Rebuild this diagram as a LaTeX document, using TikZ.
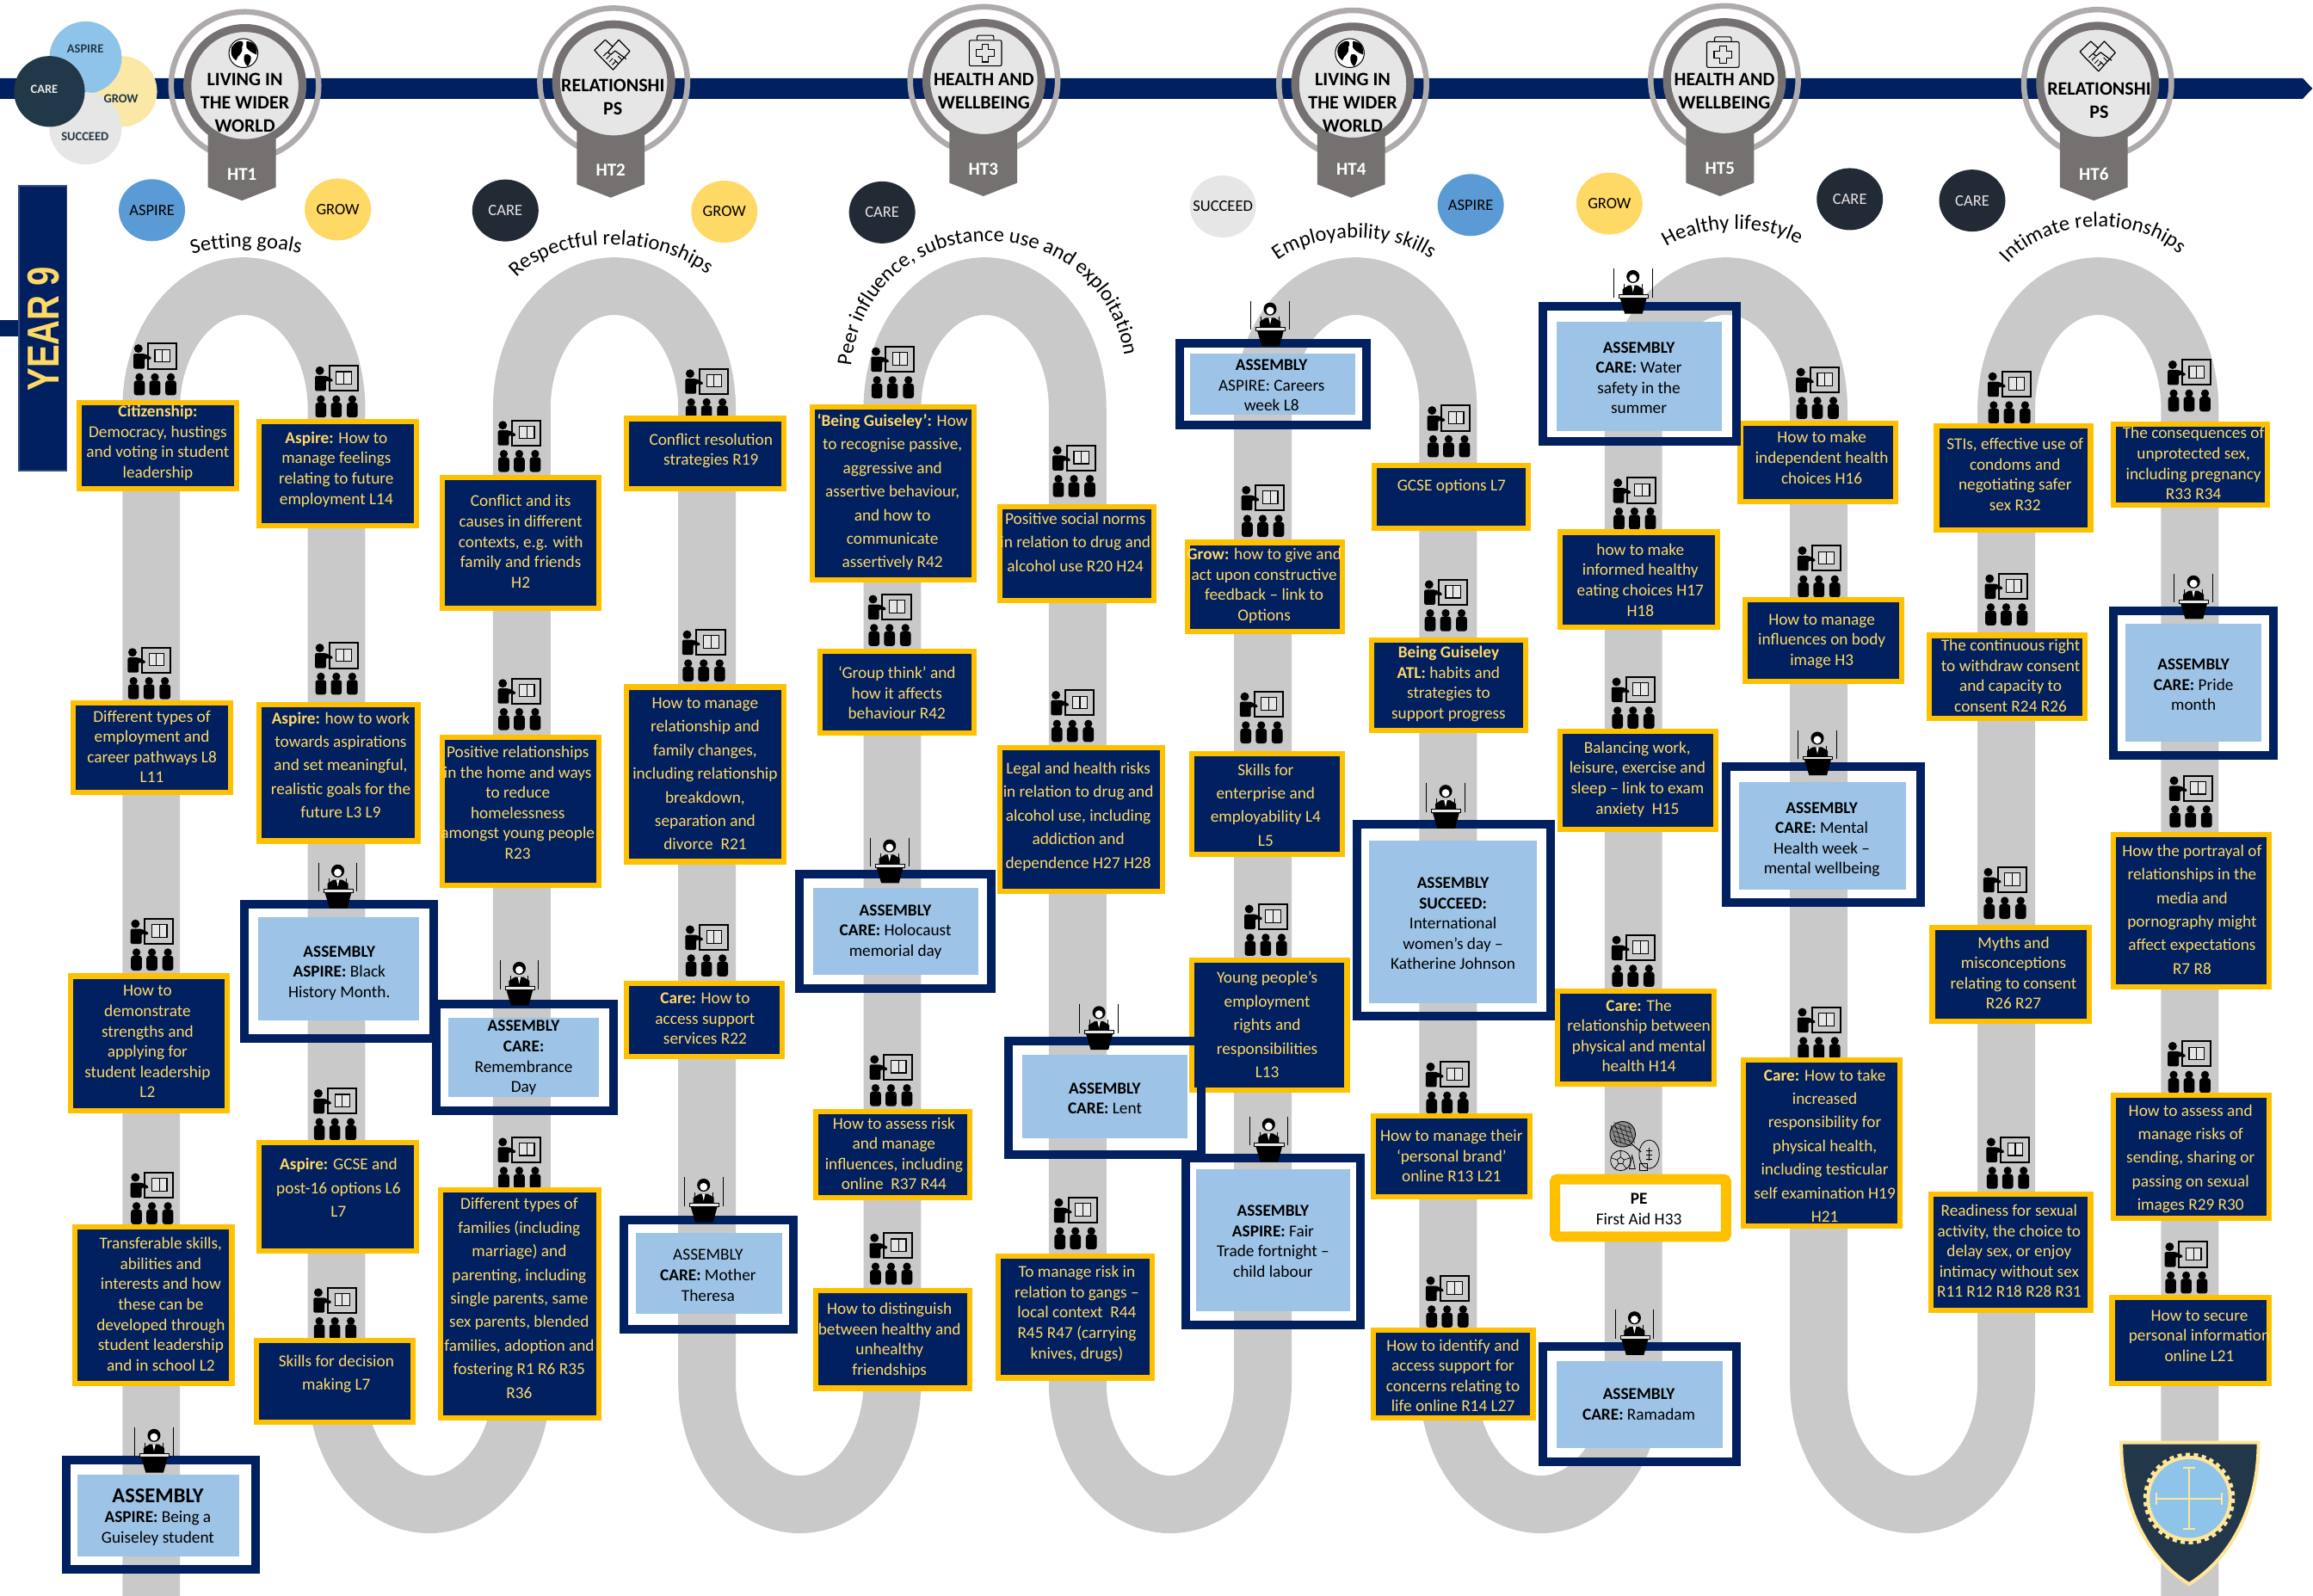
\documentclass[tikz,border=0pt]{standalone}
\usepackage{fontspec}
\usepackage{graphicx}
\setmainfont{Carlito}
\setsansfont{Liberation Sans}
\usetikzlibrary{shapes.geometric,decorations.text}
\definecolor{navyband}{HTML}{002060}
\definecolor{lessonyellow}{HTML}{FFD966}
\definecolor{boxyellow}{HTML}{FFC000}
\definecolor{assemblyblue}{HTML}{9DC3E6}
\definecolor{roadgrey}{HTML}{C9C9C9}
\definecolor{ringdark}{HTML}{767171}
\definecolor{ringlight}{HTML}{AFABAB}
\definecolor{paleface}{HTML}{E7E6E6}
\definecolor{aspireblue}{HTML}{5B9BD5}
\definecolor{carenavy}{HTML}{222A35}
\definecolor{vennblue}{HTML}{8FC4EA}
\definecolor{venncare}{HTML}{203847}
\definecolor{venngrow}{HTML}{FBE8A6}
\definecolor{shieldnavy}{HTML}{22384A}
\definecolor{shieldedge}{HTML}{FFE699}
\tikzset{
  road/.style={draw=roadgrey,line width=66.9pt},
  lessonbox/.style={draw=boxyellow,fill=navyband,line width=6.2pt},
  lessontext/.style={align=center,text=lessonyellow,inner sep=0pt,yshift=-1.2pt},
  tightlines/.style={font=\fontsize{19.3}{23.6}\selectfont},
  looselines/.style={font=\fontsize{19.3}{27.4}\selectfont},
  assemblytext/.style={align=center,text=black,inner sep=0pt,yshift=-1.2pt,font=\fontsize{19.3}{23.6}\selectfont},
  medaltext/.style={align=center,text=black,inner sep=0pt,font=\bfseries\fontsize{22}{27}\selectfont},
  badge/.style={ellipse,minimum width=77pt,minimum height=72pt,inner xsep=-14pt,inner ysep=0pt,font=\fontsize{18.5}{20}\selectfont},
  vennlabel/.style={inner sep=0pt,text=venncare,font=\bfseries\fontsize{14.5}{16}\selectfont},
  curvetext/.style={decorate,decoration={text along path,text align=center,text={|\fontsize{24.5}{27}\selectfont|#1}}},
  teacherpic/.pic={
    \fill[black] (-11.2,-14.7) circle (2.9);
    \fill[black,rounded corners=1.5pt] (-14.5,-11.2) -- (-7,-11.2) -- (-2,-8.5) -- (-3,-7) -- (-7,-8) -- (-7,-1) -- (-14.5,-1) -- cycle;
    \draw[line width=2pt] (-4.8,-18) rectangle (14.5,-1);
    \draw[line width=1.2pt,fill=paleface] (0,-14) rectangle (10.2,-5.6);
    \draw[line width=1.2pt] (5.1,-14) -- (5.1,-5.6);
    \foreach \sx in {-10.5,0,10.8}{
      \fill[black] (\sx,4.7) circle (2.7);
      \fill[black,rounded corners=3pt] (\sx-3.7,17) -- (\sx-3.7,7) -- (\sx+3.7,7) -- (\sx+3.7,17) -- cycle;
    }
  },
  speakerpic/.pic={
    \draw[line width=1pt] (-13,0) -- (-13,19.6) (13,0) -- (13,19.6);
    \fill[black] (0,5.5) circle (4.4);
    \fill[black] (-7,17.7) -- (-7,14) -- (-3,11.5) -- (3,11.5) -- (7,14) -- (7,17.7) -- cycle;
    \fill[white] (0,6.6) circle (2.6);
    \fill[white] (-1,11.5) -- (1,11.5) -- (0,16) -- cycle;
    \draw[line width=1pt] (-6,10.5) -- (-6,15) (6,10.5) -- (6,15);
    \fill[black] (-8.8,20) -- (9.3,20) -- (6.4,30.7) -- (-5.6,30.7) -- cycle;
    \draw[fill=paleface,line width=.8pt] (-9.6,17.7) rectangle (10.3,20);
  },
  globepic/.pic={
    \draw[fill=white,line width=1pt] (0,0) circle (9.8);
    \fill[black] (-8,-4) .. controls (-4,-10) and (2,-9) .. (-1,-4) .. controls (0,1) and (-4,1) .. (-5,5) .. controls (-8,3) and (-9,0) .. cycle;
    \fill[black] (2,-8) .. controls (8,-8) and (10,-3) .. (9,1) .. controls (6,0) and (3,-2) .. (2,-4) -- cycle;
    \fill[black] (1,1) .. controls (5,0) and (7,3) .. (3,9) .. controls (0,7) and (0,3) .. cycle;
  },
  handpic/.pic={
    \draw[line width=1.2pt,line join=round] (-12,-3) -- (-4.7,-10) -- (0.3,-5.4) -- (4.5,-10) -- (12,-2.3) -- (9.5,0.5) -- (0.6,10.3) -- (-9,0.5) -- cycle;
    \draw[line width=1.2pt,line join=round] (0.3,-5.4) -- (-3,-1.5) -- (-1,0) -- (2,-2.5) -- (9.5,3);
    \foreach \fa in {-6,-4,-2,0}{
      \draw[line width=1pt] (\fa,\fa+7) -- (\fa+2.5,\fa+4.5);
    }
    \draw[line width=1pt] (4,6) -- (1.5,3.5) (6.5,3.5) -- (4,1);
  },
  kitpic/.pic={
    \draw[line width=1.1pt,rounded corners=2pt,fill=paleface] (-11,-8.7) rectangle (11,8.7);
    \draw[line width=1.1pt,rounded corners=2pt] (-5.7,-8.7) -- (-5.7,-12) -- (5.7,-12) -- (5.7,-8.7);
    \draw[line width=1.1pt] (-2.2,-6) -- (2.2,-6) -- (2.2,-2.2) -- (6,-2.2) -- (6,2.2) -- (2.2,2.2) -- (2.2,6) -- (-2.2,6) -- (-2.2,2.2) -- (-6,2.2) -- (-6,-2.2) -- (-2.2,-2.2) -- cycle;
  },
  sportpic/.pic={
    \draw[line width=.9pt,fill=black!45] (0,0) circle (8.6);
    \foreach \hx in {-6,-3,0,3,6}{
      \draw[line width=.5pt] (\hx-2,-6) -- (\hx+2,6) (-6,\hx-2) -- (6,\hx+2);
    }
    \draw[line width=1pt] (6,6.5) -- (12.5,12);
    \draw[line width=.8pt] (-1.4,17.9) circle (6.8);
    \draw[line width=.7pt] (-1.4,15.4) -- (-3.7,17.4) -- (-2.8,20) -- (0,20) -- (.9,17.4) -- cycle
      (-1.4,15.4) -- (-1.4,11.1) (-3.7,17.4) -- (-7.8,16) (.9,17.4) -- (5,16) (-2.8,20) -- (-5.5,23.4) (0,20) -- (2.7,23.4);
    \draw[line width=.8pt] (18,13.6) ellipse [x radius=6.8,y radius=9.7];
    \draw[line width=.8pt] (18,9) -- (18,18) (16,11) -- (20,11) (16,14) -- (20,14) (16,17) -- (20,17);
    \draw[line width=.8pt] (4.5,23.5) -- (6.4,14.5) -- (8.5,23.5) -- cycle;
    \draw[line width=.8pt] (11.5,20) rectangle (17,24.5);
  }
}
\newcommand{\lesson}[8][tightlines]{%
  \draw[lessonbox] ({#3+1.8},{#4+1.8}) rectangle ({#5-1.8},{#6-1.8});
  \lessonwords{#1}{#2}{#7}{#8}}
\newcommand{\lessonwords}[5]{\node[lessontext,#1] (#2) at (#3,#4) {#5};}
\begin{document}
\begin{tikzpicture}[x=1.7143pt,y=-1.7143pt]
  \useasboundingbox (0,0) rectangle (1568,1082);
  % winding road
  \draw[road] (102.5,1082) -- (102.5,277) arc[start angle=180,end angle=360,x radius=62.8,y radius=83]
    -- (228.1,937) arc[start angle=180,end angle=0,x radius=62.8,y radius=83]
    -- (353.7,277) arc[start angle=180,end angle=360,x radius=62.8,y radius=83]
    -- (479.3,937) arc[start angle=180,end angle=0,x radius=62.8,y radius=83]
    -- (604.9,277) arc[start angle=180,end angle=360,x radius=62.8,y radius=83]
    -- (730.5,937) arc[start angle=180,end angle=0,x radius=62.8,y radius=83]
    -- (856.1,277) arc[start angle=180,end angle=360,x radius=62.8,y radius=83]
    -- (981.7,937) arc[start angle=180,end angle=0,x radius=62.8,y radius=83]
    -- (1107.3,277) arc[start angle=180,end angle=360,x radius=62.8,y radius=83]
    -- (1232.9,937) arc[start angle=180,end angle=0,x radius=63.6,y radius=83]
    -- (1360.1,277) arc[start angle=180,end angle=360,x radius=62.2,y radius=83]
    -- (1484.5,1082);
  % top band and year tab
  \fill[navyband] (0,53) -- (1561,53) -- (1567.6,60) -- (1561,67) -- (0,67) -- cycle;
  \fill[navyband] (0,216.8) rectangle (14,228.3);
  \draw[fill=navyband,draw=navyband!80!white,line width=1.5pt] (12.8,126) rectangle (45.2,319);
  \node[inner sep=0pt,rotate=90,text=lessonyellow] (year) at (29.3,223) {\scalebox{.77}[1]{\sffamily\bfseries\fontsize{52}{54}\selectfont YEAR 9}};
  % venn
  \fill[venngrow] (82.5,62) circle (24);
  \fill[vennblue] (58,39) circle (24.5);
  \fill[paleface] (58,87) circle (24.5);
  \fill[venncare] (33.5,62) circle (24);
  \node[vennlabel] (vaspire) at (57.8,33.4) {ASPIRE};
  \node[vennlabel,text=paleface] (vcare) at (30,60.4) {CARE};
  \node[vennlabel] (vgrow) at (82,67) {GROW};
  \node[vennlabel] (vsucceed) at (57.6,92.7) {SUCCEED};
  % half term medals
  \foreach \cx/\cy/\px/\tip in {166/58/164/136,416/55.5/414/134,667/54.6/666.6/133,917/57/916/134,1169/54/1166/133,1422/56.5/1419.4/136}{
    \draw[ringlight,line width=6.5pt] (\cx,\cy) circle (50);
    \fill[ringdark] (\px-23,\cy+30) -- (\px+23,\cy+30) -- (\px+23,\tip-9) -- (\px,\tip) -- (\px-23,\tip-9) -- cycle;
    \draw[ringdark,fill=paleface,line width=9.2pt] (\cx,\cy) circle (39);
  }
  \pic at (165,36) {globepic};
  \pic at (415,37) {handpic};
  \pic at (668,36) {kitpic};
  \pic at (915,36) {globepic};
  \pic at (1168,37) {kitpic};
  \pic at (1422,38) {handpic};
  \node[medaltext] (theme1) at (166,69.5) {LIVING IN\\THE WIDER\\WORLD};
  \node[medaltext] (theme2) at (415.5,66) {RELATIONSHI\\PS};
  \node[medaltext] (theme3) at (667,62) {HEALTH AND\\WELLBEING};
  \node[medaltext] (theme4) at (917,69.5) {LIVING IN\\THE WIDER\\WORLD};
  \node[medaltext] (theme5) at (1169,62) {HEALTH AND\\WELLBEING};
  \node[medaltext] (theme6) at (1423,68) {RELATIONSHI\\PS};
  \foreach \hx/\hy/\hn in {164/118/1,414/115/2,666.6/115/3,916/115/4,1166/114/5,1419.4/118/6}{
    \node[inner sep=0pt,text=white,font=\bfseries\fontsize{21}{23}\selectfont] (ht\hn) at (\hx,\hy) {HT\hn};
  }
  % strand badges
  \node[badge,fill=aspireblue] (aspire1) at (103,142.5) {ASPIRE};
  \node[badge,fill=lessonyellow] (grow1) at (229,142) {GROW};
  \node[badge,fill=carenavy,text=paleface] (care2) at (342.6,142.7) {CARE};
  \node[badge,fill=lessonyellow] (grow2) at (491,143.5) {GROW};
  \node[badge,fill=carenavy,text=paleface] (care3) at (598,144) {CARE};
  \node[badge,fill=paleface] (succeed4) at (829,140) {SUCCEED};
  \node[badge,fill=aspireblue] (aspire4) at (997,139) {ASPIRE};
  \node[badge,fill=lessonyellow] (grow5) at (1091,138) {GROW};
  \node[badge,fill=carenavy,text=paleface] (care5) at (1254,135) {CARE};
  \node[badge,fill=carenavy,text=paleface] (care6) at (1337,136) {CARE};
  % unit titles
  \path[curvetext={Setting goals}] (129,173) .. controls (150,166) and (183,166) .. (205,172);
  \path[curvetext={Respectful relationships}] (348,191) .. controls (375,158) and (445,158) .. (482,188);
  \path[curvetext={Peer influence, substance use and exploitation}] (577,247) .. controls (590,137) and (745,137) .. (762,240);
  \path[curvetext={Employability skills}] (861,181) .. controls (885,155) and (950,155) .. (975,180);
  \path[curvetext={Healthy lifestyle}] (1126,170) .. controls (1150,151) and (1200,151) .. (1223,168);
  \path[curvetext={Intimate relationships}] (1357,184) .. controls (1385,145) and (1455,145) .. (1482,177);
  % lesson icons
  \foreach \ix/\iy in {105/251,101/457,103/641,103/813,228/266,228/454,227/756,227/891,352/303,352/478,352/789,
    479/268,477/445,479/645,605/253,603/421,604/733,604/854,728/320,727/486,729/830,856/347,855/487,858/631,
    982/293,980/411,981/738,981/883,1108/342,1107/477,1107/652,1232/267,1233/388,1233/701,
    1362/270,1360/407,1359/606,1361/789,1484/262,1485/544,1484/724,1482/860}{
    \pic at (\ix,\iy) {teacherpic};
  }
  \pic at (1100,769) {sportpic};
  % lessons
  \lesson{citizen}{52}{271}{162}{333}{107}{299.5}{\textbf{Citizenship:}\\Democracy, hustings\\and voting in student\\leadership}
  \lesson{feelings}{174}{284}{284}{358}{228}{317.5}{\textbf{Aspire:} How to\\manage feelings\\relating to future\\employment L14}
  \lesson{pathways}{48}{475}{158}{539}{103}{505.5}{Different types of\\employment and\\career pathways L8\\L11}
  \lesson[looselines]{goals}{174}{476}{285}{572}{231}{518}{\textbf{Aspire:} how to work\\towards aspirations\\and set meaningful,\\realistic goals for the\\future L3 L9}
  \lesson{strengths}{46}{660}{156}{755}{100}{705.5}{How to\\demonstrate\\strengths and\\applying for\\student leadership\\L2}
  \lesson{transferable}{49}{830}{159}{940}{109}{883.5}{Transferable skills,\\abilities and\\interests and how\\these can be\\developed through\\student leadership\\and in school L2}
  \lesson[looselines]{gcse}{174}{773}{284}{850}{229.5}{804.5}{\textbf{Aspire:} GCSE and\\post-16 options L6\\L7}
  \lesson[looselines]{decision}{172}{907}{282}{966}{228}{931}{Skills for decision\\making L7}
  \lesson{causes}{298}{322}{408}{414}{353}{366.5}{Conflict and its\\causes in different\\contexts, e.g. with\\family and friends\\H2}
  \lesson{homeless}{298}{498}{408}{602}{351}{543.5}{Positive relationships\\in the home and ways\\to reduce\\homelessness\\amongst young people\\R23}
  \lesson[looselines]{familytypes}{297}{805}{408}{963}{352}{879.5}{Different types of\\families (including\\marriage) and\\parenting, including\\single parents, same\\sex parents, blended\\families, adoption and\\fostering R1 R6 R35\\R36}
  \lesson{resolution}{423}{282}{533}{333}{482}{305}{Conflict resolution\\strategies R19}
  \lesson[looselines]{breakdown}{423}{464}{533}{586}{478}{524}{How to manage\\relationship and\\family changes,\\including relationship\\breakdown,\\separation and\\divorce\ \ R21}
  \lesson{services}{423}{665}{532}{718}{478}{690}{\textbf{Care:} How to\\access support\\services R22}
  \lesson[looselines]{assertive}{549}{274}{662}{395}{605}{333}{\textbf{‘Being Guiseley’:} How\\to recognise passive,\\aggressive and\\assertive behaviour,\\and how to\\communicate\\assertively R42}
  \lesson{groupthink}{554}{440}{662}{499}{608}{469}{‘Group think’ and\\how it affects\\behaviour R42}
  \lesson{risk}{551}{752}{659}{814}{606}{781.5}{How to assess risk\\and manage\\influences, including\\online\ \ R37 R44}
  \lesson{unhealthy}{551}{873}{659}{943}{603}{908}{How to distinguish\\between healthy and\\unhealthy\\friendships}
  \lesson[looselines]{norms}{676}{342}{784}{409}{729}{367}{Positive social norms\\in relation to drug and\\alcohol use R20 H24}
  \lesson[looselines]{legal}{676}{505}{790}{606}{731}{553}{Legal and health risks\\in relation to drug and\\alcohol use, including\\addiction and\\dependence H27 H28}
  \lesson{gangs}{675}{850}{783}{936}{730}{890}{To manage risk in\\relation to gangs --\\local context\ \ R44\\R45 R47 (carrying\\knives, drugs)}
  \lesson{feedback}{803}{366}{912}{430}{857}{396.5}{\textbf{Grow:} how to give and\\act upon constructive\\feedback -- link to\\Options}
  \lesson[looselines]{enterprise}{806}{509}{912}{581}{858}{545}{Skills for\\enterprise and\\employability L4\\L5}
  \lesson[looselines]{rights}{806}{649}{915}{741}{859}{694}{Young people’s\\employment\\rights and\\responsibilities\\L13}
  \lesson{options}{930}{314}{1038}{360}{984}{329}{GCSE options L7}
  \lesson{atl}{928}{432}{1036}{497}{982}{463}{\textbf{Being Guiseley}\\\textbf{ATL:} habits and\\strategies to\\support progress}
  \lesson{brand}{929}{755}{1039}{813}{984}{783}{How to manage their\\‘personal brand’\\online R13 L21}
  \lesson{concerns}{929}{900}{1041}{963}{985}{932}{How to identify and\\access support for\\concerns relating to\\life online R14 L27}
  \lesson{eating}{1056}{359}{1166}{427}{1112}{392.5}{how to make\\informed healthy\\eating choices H17\\H18}
  \lesson{balancing}{1056}{494}{1165}{564}{1110}{527.5}{Balancing work,\\leisure, exercise and\\sleep -- link to exam\\anxiety\ \ H15}
  \lesson{mindbody}{1054}{670}{1164}{737}{1111}{701.5}{\textbf{Care:} The\\relationship between\\physical and mental\\health H14}
  \lesson{choices}{1178}{285}{1287}{342}{1235}{309.5}{How to make\\independent health\\choices H16}
  \lesson{bodyimage}{1181}{405}{1291}{464}{1235}{434}{How to manage\\influences on body\\image H3}
  \lesson[looselines]{selfexam}{1180}{717}{1290}{833}{1237}{776}{\textbf{Care:} How to take\\increased\\responsibility for\\physical health,\\including testicular\\self examination H19\\H21}
  \lesson{stis}{1311}{287}{1419}{361}{1366}{321}{STIs, effective use of\\condoms and\\negotiating safer\\sex R32}
  \lesson{withdraw}{1306}{429}{1415}{489}{1363}{457.5}{The continuous right\\to withdraw consent\\and capacity to\\consent R24 R26}
  \lesson{myths}{1308}{627}{1418}{694}{1365}{659}{Myths and\\misconceptions\\relating to consent\\R26 R27}
  \lesson{readiness}{1307}{808}{1419}{890}{1362}{847.5}{Readiness for sexual\\activity, the choice to\\delay sex, or enjoy\\intimacy without sex\\R11 R12 R18 R28 R31}
  \lesson{unprotected}{1431}{286}{1539}{344}{1487}{313.5}{The consequences of\\unprotected sex,\\including pregnancy\\R33 R34}
  \lesson[looselines]{portrayal}{1431}{564}{1540}{671}{1486}{616}{How the portrayal of\\relationships in the\\media and\\pornography might\\affect expectations\\R7 R8}
  \lesson[looselines]{sharing}{1431}{741}{1540}{828}{1485}{785}{How to assess and\\manage risks of\\sending, sharing or\\passing on sexual\\images R29 R30}
  \lesson{secure}{1430}{878}{1540}{940}{1491}{905}{How to secure\\personal information\\online L21}
  % assemblies
  \foreach \xa/\ya/\xb/\yb/\xc/\yc/\xd/\yd in {42/987/176/1067/52.6/1000/162/1055,163/610/297/707/175/622/284/692,
    293/678/419/756/304/690/406/744,420/824/541/904/431/836/530/891,539/590/675/673/551/602/663/661,
    681/703/817/786/693/715/805/772,801/782/925/901/811/793/915/889,797/230/929/291/807/240/919/281,
    917/556/1054/692/928/570/1042/680,1043/205/1180/302/1055/218/1167/292,1167/517/1305/615/1179/530/1292/603,
    1430/411/1544/515/1441/423/1533/503,1043/910/1180/994/1055/923/1168/982}{
    \draw[navyband,line width=10pt] ({\xa+2.9},{\ya+2.9}) rectangle ({\xb-2.9},{\yb-2.9});
    \fill[assemblyblue] (\xc,\yc) rectangle (\xd,\yd);
  }
  \node[assemblytext] (guiseley) at (107,1028) {{\bfseries\fontsize{24.5}{26}\selectfont ASSEMBLY}\\\textbf{ASPIRE:} Being a\\Guiseley student};
  \node[assemblytext] (blackhistory) at (230,659) {\textbf{ASSEMBLY}\\\textbf{ASPIRE:} Black\\History Month.};
  \node[assemblytext] (remembrance) at (355,716.5) {\textbf{ASSEMBLY}\\\textbf{CARE:}\\Remembrance\\Day};
  \node[assemblytext] (theresa) at (480,864) {ASSEMBLY\\\textbf{CARE:} Mother\\Theresa};
  \node[assemblytext] (holocaust) at (607,631) {\textbf{ASSEMBLY}\\\textbf{CARE:} Holocaust\\memorial day};
  \node[assemblytext] (lent) at (749,744) {\textbf{ASSEMBLY}\\\textbf{CARE:} Lent};
  \node[assemblytext] (fairtrade) at (863,841) {\textbf{ASSEMBLY}\\\textbf{ASPIRE:} Fair\\Trade fortnight --\\child labour};
  \node[assemblytext] (careers) at (862,260.5) {\textbf{ASSEMBLY}\\ASPIRE: Careers\\week L8};
  \node[assemblytext] (womensday) at (985,625.5) {\textbf{ASSEMBLY}\\\textbf{SUCCEED:}\\International\\women’s day --\\Katherine Johnson};
  \node[assemblytext] (water) at (1111,255.5) {\textbf{ASSEMBLY}\\\textbf{CARE:} Water\\safety in the\\summer};
  \node[assemblytext] (mentalhealth) at (1235,568.5) {\textbf{ASSEMBLY}\\\textbf{CARE:} Mental\\Health week --\\mental wellbeing};
  \node[assemblytext] (pride) at (1487,463.5) {\textbf{ASSEMBLY}\\\textbf{CARE:} Pride\\month};
  \node[assemblytext] (ramadam) at (1111,951.5) {\textbf{ASSEMBLY}\\\textbf{CARE:} Ramadam};
  \foreach \sx/\sy in {104.4/967.7,229/585,352/651,477/798,603/568,745/681,860/757,861/204,980/531,1107/182,1232/495,1487/389,1108/888}{
    \pic at (\sx,\sy) {speakerpic};
  }
  % PE
  \draw[draw=boxyellow,fill=white,line width=12pt,rounded corners=3pt] (1054.1,799.5) rectangle (1170.1,838.5);
  \node[assemblytext,text=black] (pe) at (1111,819) {\textbf{PE}\\First Aid H33};
  % crest
  \draw[fill=shieldnavy,draw=shieldedge,line width=4pt] (1438,978) -- (1531,978) .. controls (1531,1025) and (1510,1058) .. (1484,1074) .. controls (1458,1058) and (1438,1025) .. cycle;
  \draw[shieldedge,line width=5pt,dash pattern=on 5pt off 4.4pt] (1484,1016) circle (29.6);
  \fill[shieldedge] (1484,1016) circle (29);
  \fill[vennblue] (1484,1016) circle (26.7);
  \draw[shieldedge,line width=2pt] (1462,1016) -- (1506,1016) (1484,995.4) -- (1484,1036.6)
    (1462,1012) -- (1462,1020) (1506,1012) -- (1506,1020) (1480,995.4) -- (1488,995.4) (1480,1036.6) -- (1488,1036.6);
\end{tikzpicture}
\end{document}
